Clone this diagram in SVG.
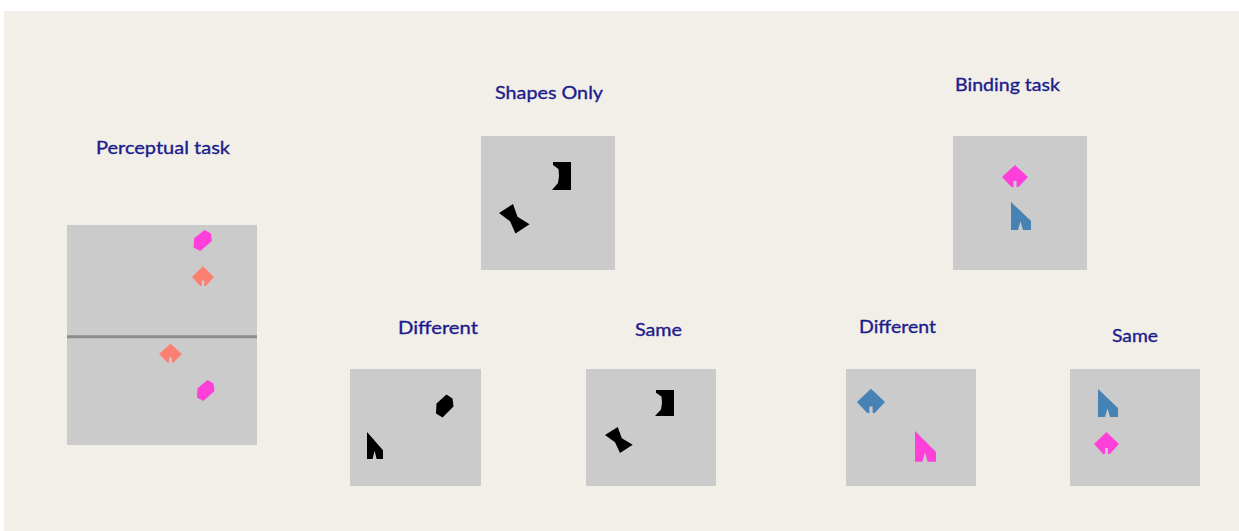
<svg xmlns="http://www.w3.org/2000/svg" xmlns:xlink="http://www.w3.org/1999/xlink" width="1239" height="531" viewBox="0 0 1239 531">
<style>
.panel{fill:#cbcbcb}
.lbl{font-family:Lato,"Open Sans","Liberation Sans",sans-serif;font-size:18px;fill:#1c1c8c;stroke:#1c1c8c;stroke-width:0.35px}
.pink{fill:#ff3fd9}
.salmon{fill:#fa8072}
.blue{fill:#4682b4}
.black{fill:#000}
</style>
<defs>
<polygon id="hex" points="2,-11.5 8,-7.5 9,0.5 -2,11.5 -8.5,7.5 -8,-2.5"/>
<polygon id="dia" points="0,-12 13,0 3.5,10 1.5,10 1.5,4 -1.5,4 -1.5,10 -3.5,10 -13,0"/>
<polygon id="cur" points="0,0 20,19 20,28 12,28 9.5,19.5 7,28 0,28"/>
<polygon id="brk" points="0,0 18,0 18,28 -1,28 5,21 6,14 5.5,7 0,3"/>
<polygon id="bow" points="0,0 14,-9 18.5,3.8 30.5,11.2 16.5,20.5 11,8.3"/>
</defs>
<rect x="0" y="0" width="1239" height="531" fill="#ffffff"/>
<rect x="4" y="11" width="1235" height="520" fill="#f2efe9"/>
<g id="connectors"/>
<g id="perceptual">
<text class="lbl" x="96" y="154" textLength="134" lengthAdjust="spacingAndGlyphs">Perceptual task</text>
<rect class="panel" x="67" y="225" width="190" height="220"/>
<line x1="67" y1="336.7" x2="257" y2="336.7" stroke="#8c8c8c" stroke-width="3"/>
<use href="#hex" class="pink" transform="translate(202.5,240.5) scale(1.05,0.92)"/>
<use href="#dia" class="salmon" transform="translate(203,277) scale(0.85,0.9)"/>
<use href="#dia" class="salmon" transform="translate(170.5,354) scale(0.88,0.86)"/>
<use href="#hex" class="pink" transform="translate(205.5,390.5) scale(1,0.92)"/>
</g>
<g id="shapes-only">
<text class="lbl" x="495" y="99" textLength="108" lengthAdjust="spacingAndGlyphs">Shapes Only</text>
<rect class="panel" x="481" y="136" width="134" height="134"/>
<use href="#brk" class="black" transform="translate(553,162)"/>
<use href="#bow" class="black" transform="translate(499,213)"/>
</g>
<g id="binding">
<text class="lbl" x="955" y="91" textLength="105" lengthAdjust="spacingAndGlyphs">Binding task</text>
<rect class="panel" x="953" y="136" width="134" height="134"/>
<use href="#dia" class="pink" transform="translate(1015,177)"/>
<use href="#cur" class="blue" transform="translate(1011,202)"/>
</g>
<g id="different-shapes">
<text class="lbl" x="398" y="334" textLength="80" lengthAdjust="spacingAndGlyphs">Different</text>
<rect class="panel" x="350" y="369" width="131" height="117"/>
<use href="#hex" class="black" transform="translate(444.5,406)"/>
<use href="#cur" class="black" transform="translate(367,432) scale(0.8,0.96)"/>
</g>
<g id="same-shapes">
<text class="lbl" x="635" y="336" textLength="47" lengthAdjust="spacingAndGlyphs">Same</text>
<rect class="panel" x="586" y="369" width="130" height="117"/>
<use href="#brk" class="black" transform="translate(656,390) scale(1,0.93)"/>
<use href="#bow" class="black" transform="translate(605,435) scale(0.91,0.88)"/>
</g>
<g id="different-binding">
<text class="lbl" x="859" y="333" textLength="77" lengthAdjust="spacingAndGlyphs">Different</text>
<rect class="panel" x="846" y="369" width="130" height="117"/>
<use href="#dia" class="blue" transform="translate(871,402) scale(1.08,1.1)"/>
<use href="#cur" class="pink" transform="translate(915,431) scale(1.05,1.1)"/>
</g>
<g id="same-binding">
<text class="lbl" x="1112" y="342" textLength="46" lengthAdjust="spacingAndGlyphs">Same</text>
<rect class="panel" x="1070" y="369" width="130" height="117"/>
<use href="#cur" class="blue" transform="translate(1098,389)"/>
<use href="#dia" class="pink" transform="translate(1106.5,444) scale(0.96,1)"/>
</g>
</svg>
